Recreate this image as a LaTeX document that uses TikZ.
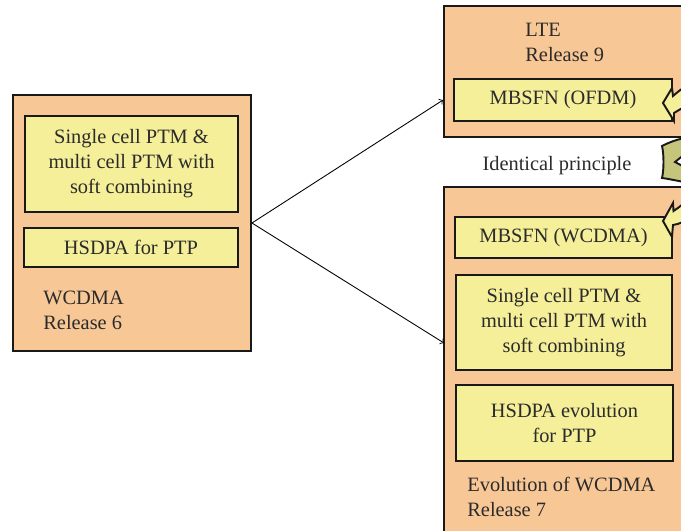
\documentclass[tikz,border=0pt]{standalone}
\usepackage{fontspec}
\setmainfont{Liberation Serif}
\usepackage{tikz}
\usetikzlibrary{arrows,calc}
\definecolor{relorange}{RGB}{248,199,150}
\definecolor{boxyellow}{RGB}{245,239,153}
\definecolor{fork}{RGB}{198,197,124}
\definecolor{ink}{RGB}{43,43,43}

\begin{document}
\begin{tikzpicture}[
  release/.style={draw=black!90, line width=1.1pt, fill=relorange, inner sep=0pt},
  feature/.style={draw=black!90, line width=1.1pt, fill=boxyellow, text=ink, align=center, inner sep=0pt},
  caption/.style={text=ink, align=left, inner sep=0pt, anchor=north west},
  every node/.append style={font=\fontsize{11.6}{14.2}\selectfont}]
\clip (0,0) rectangle (13.62,-10.62);
\fill[white] (0,0) rectangle (13.62,-10.62);
\node[release, minimum width=4.76cm, minimum height=5.12cm] (rel6) at (2.64,-4.46) {};
\node[feature, minimum width=4.26cm, minimum height=1.92cm] (ptm6) at (2.63,-3.28) {Single cell PTM \&\\multi cell PTM with\\soft combining};
\node[feature, minimum width=4.28cm, minimum height=0.78cm] (hsdpa6) at (2.62,-4.95) {HSDPA for PTP};
\node[caption] (wcdma6) at (0.86,-5.81) {WCDMA\\Release 6};
\node[release, minimum width=4.92cm, minimum height=2.62cm] (lte) at (11.34,-1.43) {};
\node[caption] (lte9) at (10.5,-0.46) {LTE\\Release 9};
\node[feature, minimum width=4.36cm, minimum height=0.84cm] (ofdm) at (11.26,-2.0) {MBSFN (OFDM)};
\node[text=ink, inner sep=0pt] (same) at (11.14,-3.31) {Identical principle};
\node[release, minimum width=4.92cm, minimum height=7.06cm] (evo) at (11.34,-7.27) {};
\node[feature, minimum width=4.34cm, minimum height=0.82cm] (mbwcdma) at (11.27,-4.75) {MBSFN (WCDMA)};
\node[feature, minimum width=4.32cm, minimum height=1.9cm] (ptm7) at (11.28,-6.45) {Single cell PTM \&\\multi cell PTM with\\soft combining};
\node[feature, minimum width=4.34cm, minimum height=1.52cm] (hsdpa7) at (11.29,-8.46) {HSDPA evolution\\for PTP};
\node[caption] (wcdma7) at (9.34,-9.54) {Evolution of WCDMA\\Release 7};
\coordinate (into7) at (8.88,-6.86);
\draw[->, line width=0.5pt] (rel6.east) -- (lte.west |- ofdm.west);
\draw[->, line width=0.5pt] (rel6.east) -- (into7);
\draw[black!90, line width=1.1pt, fill=boxyellow] (13.26,-2.06) -- (13.44,-1.76) -- (13.46,-1.92) .. controls (13.6,-1.8) and (13.7,-1.72) .. (13.8,-1.7) -- (13.8,-2.1) .. controls (13.7,-2.12) and (13.58,-2.2) .. (13.48,-2.26) -- (13.48,-2.42) -- cycle;
\draw[black!90, line width=1.1pt, fill=fork] (13.24,-2.92) .. controls (13.4,-2.84) and (13.55,-2.78) .. (13.8,-2.74) -- (13.8,-3.0) -- (13.5,-3.24) -- (13.8,-3.4) -- (13.8,-3.66) .. controls (13.55,-3.62) and (13.4,-3.58) .. (13.24,-3.56) .. controls (13.28,-3.4) and (13.28,-3.08) .. cycle;
\draw[black!90, line width=1.1pt, fill=boxyellow] (13.26,-4.42) -- (13.46,-4.06) -- (13.47,-4.22) .. controls (13.6,-4.14) and (13.7,-4.04) .. (13.8,-3.96) -- (13.8,-4.36) .. controls (13.7,-4.42) and (13.6,-4.48) .. (13.46,-4.5) -- (13.44,-4.74) -- cycle;
\end{tikzpicture}
\end{document}
